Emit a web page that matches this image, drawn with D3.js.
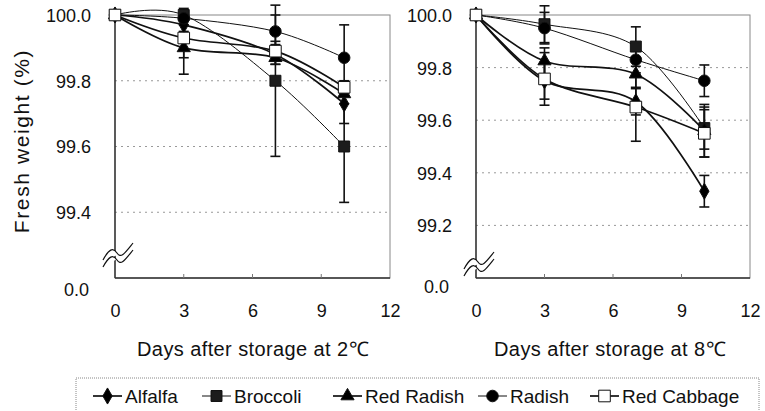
<html>
<head>
<style>
  body { margin: 0; background: #fff; }
  svg text { font-family: "Liberation Sans", Arial, sans-serif; fill: #111; }
</style>
</head>
<body>
<svg id="chart" width="765" height="411"></svg>
<script src="https://cdnjs.cloudflare.com/ajax/libs/d3/7.8.5/d3.min.js"></script>
<script>
  // ---- data ----
  var days = [0, 3, 7, 10];
  var xTicks = [0, 3, 6, 9, 12];
  var seriesNames = ["Alfalfa", "Broccoli", "Red Radish", "Radish", "Red Cabbage"];

  // 2 C storage
  var alfalfa2 = [100, 99.97, 99.88, 99.73];
  var broccoli2 = [100, 100.0, 99.80, 99.60];
  var redRadish2 = [100, 99.90, 99.87, 99.76];
  var radish2 = [100, 99.99, 99.95, 99.87];
  var redCabbage2 = [100, 99.93, 99.89, 99.78];
  var alfalfa2Err = [0, 0.02, 0.03, 0.06];
  var broccoli2Err = [0, 0.02, 0.23, 0.17];
  var redRadish2Err = [0, 0.08, 0.02, 0.03];
  var radish2Err = [0, 0.02, 0.05, 0.10];
  var redCabbage2Err = [0, 0.06, 0.03, 0.02];
  var yTicks2 = [100.0, 99.8, 99.6, 99.4];

  // 8 C storage
  var alfalfa8 = [100, 99.75, 99.67, 99.33];
  var broccoli8 = [100, 99.965, 99.88, 99.57];
  var redRadish8 = [100, 99.825, 99.775, 99.56];
  var radish8 = [100, 99.95, 99.83, 99.75];
  var redCabbage8 = [100, 99.757, 99.65, 99.55];
  var alfalfa8Err = [0, 0.07, 0.05, 0.06];
  var broccoli8Err = [0, 0.07, 0.075, 0.08];
  var redRadish8Err = [0, 0.05, 0.05, 0.10];
  var radish8Err = [0, 0.06, 0.06, 0.06];
  var redCabbage8Err = [0, 0.10, 0.13, 0.09];
  var yTicks8 = [100.0, 99.8, 99.6, 99.4, 99.2];

  // ---- styles ----
  var markers = {
    "Alfalfa": { type: d3.symbolDiamond, size: 75, fill: "#000", lw: 1.7 },
    "Broccoli": { type: d3.symbolSquare, size: 120, fill: "#1c1c1c", lw: 1.0 },
    "Red Radish": { type: d3.symbolTriangle, size: 75, fill: "#000", lw: 1.7 },
    "Radish": { type: d3.symbolCircle, size: 105, fill: "#000", lw: 1.0 },
    "Red Cabbage": { type: d3.symbolSquare, size: 135, fill: "#fff", lw: 1.7 }
  };

  var svg = d3.select("#chart");

  function panel(opts) {
    var x = d3.scaleLinear().domain([0, 12]).range([opts.left, opts.right]);
    var y = d3.scaleLinear().domain([opts.bottomVal, 100]).range([278, 15]);
    var g = svg.append("g");

    // grid
    g.selectAll(".grid").data(opts.ticks.slice(1)).enter().append("line")
      .attr("x1", opts.left).attr("x2", opts.right)
      .attr("y1", d => y(d)).attr("y2", d => y(d))
      .attr("stroke", "#999").attr("stroke-width", 1).attr("stroke-dasharray", "2,4");

    // frame
    g.append("rect").attr("x", opts.left).attr("y", 15)
      .attr("width", opts.right - opts.left).attr("height", 263)
      .attr("fill", "none").attr("stroke", "#888").attr("stroke-width", 1);
    g.append("line").attr("x1", opts.left).attr("x2", opts.left).attr("y1", 15).attr("y2", 278)
      .attr("stroke", "#222").attr("stroke-width", 1.3);
    g.append("line").attr("x1", opts.left).attr("x2", opts.right).attr("y1", 278).attr("y2", 278)
      .attr("stroke", "#333").attr("stroke-width", 1.3);

    // inner x tick marks
    g.selectAll(".xt").data(xTicks.slice(1, -1)).enter().append("line")
      .attr("x1", d => x(d)).attr("x2", d => x(d)).attr("y1", 278).attr("y2", 274)
      .attr("stroke", "#777");

    // axes
    var ya = g.append("g").attr("transform", "translate(" + opts.left + ",0)")
      .call(d3.axisLeft(y).tickValues(opts.ticks.concat([opts.bottomVal])).tickSize(0).tickPadding(24)
        .tickFormat(d => d === opts.bottomVal ? "0.0" : d3.format(".1f")(d)));
    ya.select(".domain").remove();
    ya.selectAll("text").style("font-size", "18px").attr("dy", "0.36em");
    ya.selectAll(".tick").filter(d => d === opts.bottomVal).select("text")
      .attr("y", opts.zeroShift).attr("x", -(opts.left - opts.zeroRight));

    var xa = g.append("g").attr("transform", "translate(0,278)")
      .call(d3.axisBottom(x).tickValues(xTicks).tickSize(0).tickPadding(26));
    xa.select(".domain").remove();
    xa.selectAll("text").style("font-size", "18px");

    // axis break symbol
    var bx = opts.left, by = opts.breakY;
    var wave = function (dy) {
      return "M" + (bx - 12) + "," + (by + 9 + dy) + " C" + (bx - 6) + "," + (by - 2 + dy) + " " +
        (bx - 2) + "," + (by - 4 + dy) + " " + (bx + 2) + "," + (by + 2 + dy) + " S" +
        (bx + 10) + "," + (by + 2 + dy) + " " + (bx + 18) + "," + (by - 8 + dy);
    };
    g.append("path").attr("d", wave(0) + " L" + (bx + 18) + "," + (by - 1) + " " + wave(7).replace("M", "L"))
      .attr("fill", "#fff").attr("stroke", "none");
    g.append("path").attr("d", wave(0)).attr("fill", "none").attr("stroke", "#111").attr("stroke-width", 1.2);
    g.append("path").attr("d", wave(7)).attr("fill", "none").attr("stroke", "#111").attr("stroke-width", 1.2);

    // x title
    g.append("text").attr("x", opts.titleX).attr("y", 356)
      .attr("text-anchor", "middle").style("font-size", "20px").style("letter-spacing", "0.4px")
      .text(opts.title);

    var line = d3.line().x(d => x(d.day)).y(d => y(d.v)).curve(d3.curveCatmullRom.alpha(0));

    var data = opts.series.map((vals, i) => ({
      name: seriesNames[i],
      pts: days.map((dd, j) => ({ day: dd, v: vals[j], e: opts.errs[i][j] }))
    }));

    // lines
    g.selectAll(".ln").data(data).enter().append("path")
      .attr("d", d => line(d.pts)).attr("fill", "none")
      .attr("stroke", "#111").attr("stroke-width", d => markers[d.name].lw);

    // error bars
    data.forEach(function (s) {
      var pts = s.pts.filter(p => p.e > 0);
      var eb = g.append("g").attr("stroke", "#111").attr("stroke-width", 1.6);
      eb.selectAll(".v").data(pts).enter().append("line")
        .attr("x1", p => x(p.day)).attr("x2", p => x(p.day))
        .attr("y1", p => y(p.v + p.e)).attr("y2", p => y(p.v - p.e));
      [1, -1].forEach(function (sgn) {
        eb.selectAll(".c").data(pts).enter().append("line")
          .attr("x1", p => x(p.day) - 5).attr("x2", p => x(p.day) + 5)
          .attr("y1", p => y(p.v + sgn * p.e)).attr("y2", p => y(p.v + sgn * p.e));
      });
    });

    // markers
    data.forEach(function (s) {
      var m = markers[s.name];
      g.selectAll(".m").data(s.pts).enter().append("path")
        .attr("transform", p => "translate(" + x(p.day) + "," + y(p.v) + ")")
        .attr("d", d3.symbol().type(m.type).size(m.size))
        .attr("fill", m.fill).attr("stroke", "#111").attr("stroke-width", 1);
    });
  }

  panel({
    left: 115, right: 390, bottomVal: 99.2, ticks: yTicks2, zeroShift: 11, zeroRight: 89, breakY: 251,
    titleX: 253, title: "Days after storage at 2\u2103",
    series: [alfalfa2, broccoli2, redRadish2, radish2, redCabbage2],
    errs: [alfalfa2Err, broccoli2Err, redRadish2Err, radish2Err, redCabbage2Err]
  });
  panel({
    left: 476, right: 750, bottomVal: 99.0, ticks: yTicks8, zeroShift: 8, zeroRight: 449, breakY: 260,
    titleX: 610, title: "Days after storage at 8\u2103",
    series: [alfalfa8, broccoli8, redRadish8, radish8, redCabbage8],
    errs: [alfalfa8Err, broccoli8Err, redRadish8Err, radish8Err, redCabbage8Err]
  });

  // y title
  svg.append("text").attr("transform", "translate(29,141) rotate(-90)")
    .attr("text-anchor", "middle").style("font-size", "21px").style("letter-spacing", "1.6px")
    .text("Fresh weight (%)");

  // legend
  var legendX = [93, 202, 333, 478, 590];
  svg.append("rect").attr("x", 76).attr("y", 378).attr("width", 683).attr("height", 50)
    .attr("fill", "none").attr("stroke", "#888").attr("stroke-dasharray", "1,1");
  var lg = svg.selectAll(".lg").data(seriesNames).enter().append("g")
    .attr("transform", (d, i) => "translate(" + legendX[i] + ",396)");
  lg.append("line").attr("x1", 0).attr("x2", 29).attr("stroke", "#111")
    .attr("stroke-width", d => markers[d].lw);
  lg.append("path").attr("transform", "translate(14.5,0)")
    .attr("d", d => d3.symbol().type(markers[d].type).size(markers[d].size)())
    .attr("fill", d => markers[d].fill).attr("stroke", "#111");
  lg.append("text").attr("x", 32).attr("dy", "0.35em")
    .style("font-family", "'Liberation Sans Narrow', 'Liberation Sans', sans-serif")
    .style("font-size", "19px").text(d => d);
</script>
</body>
</html>
